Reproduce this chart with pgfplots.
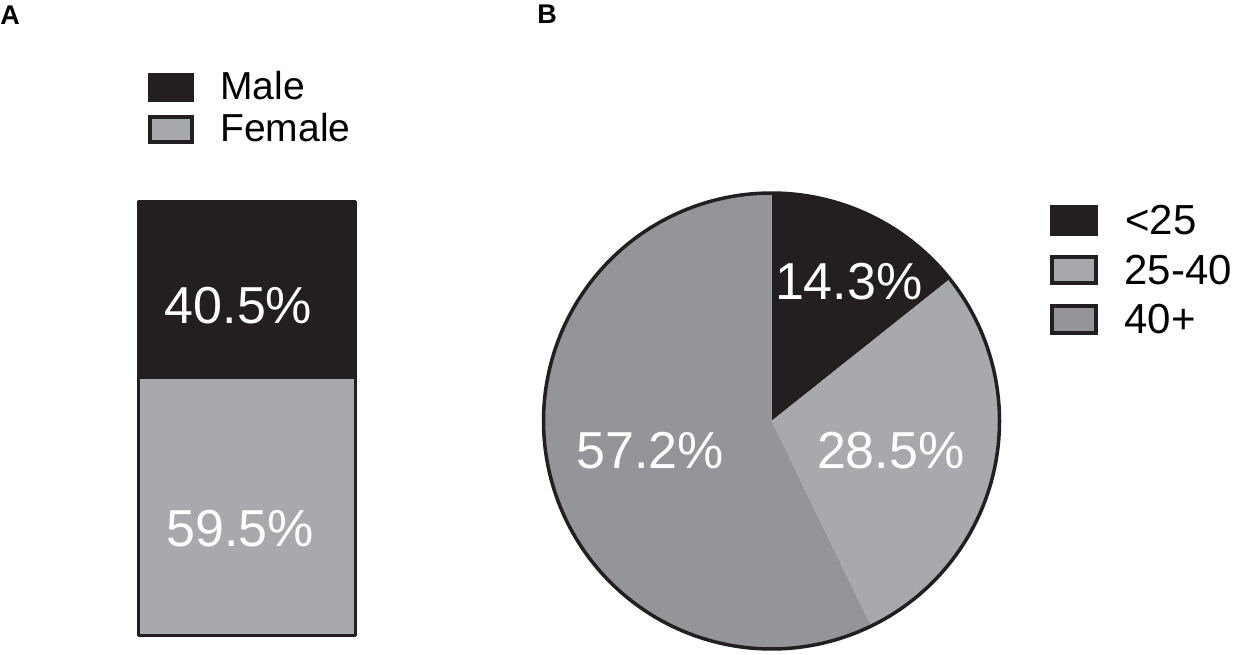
\documentclass[border=0pt]{standalone}
\usepackage{pgfplots}
\pgfplotsset{compat=1.18}
\usepackage{fontspec}
\setmainfont{Liberation Sans}
\definecolor{cblack}{HTML}{231F20}
\definecolor{clight}{HTML}{A7A9AC}
\definecolor{cmid}{HTML}{939598}
% age group shares (%)
\def\pYoung{14.3}
\def\pMid{28.5}
\def\pOld{57.2}
\pgfmathsetmacro{\aOne}{90-3.6*\pYoung}
\pgfmathsetmacro{\aTwo}{\aOne-3.6*\pMid}
\pgfmathsetmacro{\aThree}{\aTwo-3.6*\pOld}
\begin{document}
\begin{tikzpicture}
\path[use as bounding box] (0,0) rectangle (620pt,327pt);
% panel labels
\node[anchor=base west, inner sep=0, font=\bfseries\fontsize{13.5}{16}\selectfont] at (0pt,314.5pt) {A};
\node[anchor=base west, inner sep=0, font=\bfseries\fontsize{13.5}{16}\selectfont] at (268.5pt,315pt) {B};
% ---------- Panel A ----------
\begin{axis}[at={(69.25pt,9.25pt)}, anchor=south west, scale only axis,
  width=108.5pt, height=217pt, xmin=-0.5, xmax=0.5, ymin=0, ymax=100,
  ybar stacked, bar width=108.5pt, hide axis, clip=false]
\addplot[fill=clight, draw=cblack, line width=1.75pt, line join=round] coordinates {(0,59.5)};
\addplot[fill=cblack, draw=cblack, line width=1.75pt, line join=round] coordinates {(0,40.5)};
\end{axis}
\node[white, inner sep=0, font=\fontsize{26}{30}\selectfont] at (119.25pt,174pt) {40.5\%};
\node[white, inner sep=0, font=\fontsize{26}{30}\selectfont] at (120pt,62.5pt) {59.5\%};
% legend A
\fill[cblack] (74pt,276pt) rectangle (97pt,290.5pt);
\filldraw[fill=clight, draw=cblack, line width=1.75pt] (74.9pt,255.9pt) rectangle (96.1pt,268.6pt);
\node[anchor=base west, inner sep=0, font=\fontsize{19.5}{22}\selectfont] at (110pt,277pt) {Male};
\node[anchor=base west, inner sep=0, font=\fontsize{19.5}{22}\selectfont] at (110pt,256pt) {Female};
% ---------- Panel B ----------
\begin{axis}[at={(385.75pt,116.5pt)}, anchor=center, scale only axis,
  width=228pt, height=228pt, xmin=-1, xmax=1, ymin=-1, ymax=1,
  hide axis, clip=false]
\addplot[fill=cblack, draw=none, domain=\aOne:90, samples=80, variable=\t]
  ({cos(\t)},{sin(\t)}) -- (axis cs:0,0) -- cycle;
\addplot[fill=clight, draw=none, domain=\aTwo:\aOne, samples=120, variable=\t]
  ({cos(\t)},{sin(\t)}) -- (axis cs:0,0) -- cycle;
\addplot[fill=cmid, draw=none, domain=\aThree:\aTwo, samples=200, variable=\t]
  ({cos(\t)},{sin(\t)}) -- (axis cs:0,0) -- cycle;
\addplot[draw=cblack, line width=1.75pt, domain=0:360, samples=240, variable=\t]
  ({cos(\t)},{sin(\t)}) -- cycle;
\node[white, inner sep=0, font=\fontsize{26}{30}\selectfont] at (axis cs:0.339,0.613) {14.3\%};
\node[white, inner sep=0, font=\fontsize{26}{30}\selectfont] at (axis cs:0.523,-0.131) {28.5\%};
\node[white, inner sep=0, font=\fontsize{26}{30}\selectfont] at (axis cs:-0.532,-0.131) {57.2\%};
\end{axis}
% legend B
\fill[cblack] (525pt,209pt) rectangle (549pt,224.5pt);
\filldraw[fill=clight, draw=cblack, line width=1.75pt] (525.9pt,185.4pt) rectangle (548.1pt,198.6pt);
\filldraw[fill=cmid, draw=cblack, line width=1.75pt] (525.9pt,160.4pt) rectangle (548.1pt,174.1pt);
\node[anchor=base west, inner sep=0, font=\fontsize{21}{24}\selectfont] at (562.5pt,209.5pt) {<25};
\node[anchor=base west, inner sep=0, font=\fontsize{21}{24}\selectfont] at (562pt,185pt) {25-40};
\node[anchor=base west, inner sep=0, font=\fontsize{21}{24}\selectfont] at (562pt,160.5pt) {40+};
\end{tikzpicture}
\end{document}
